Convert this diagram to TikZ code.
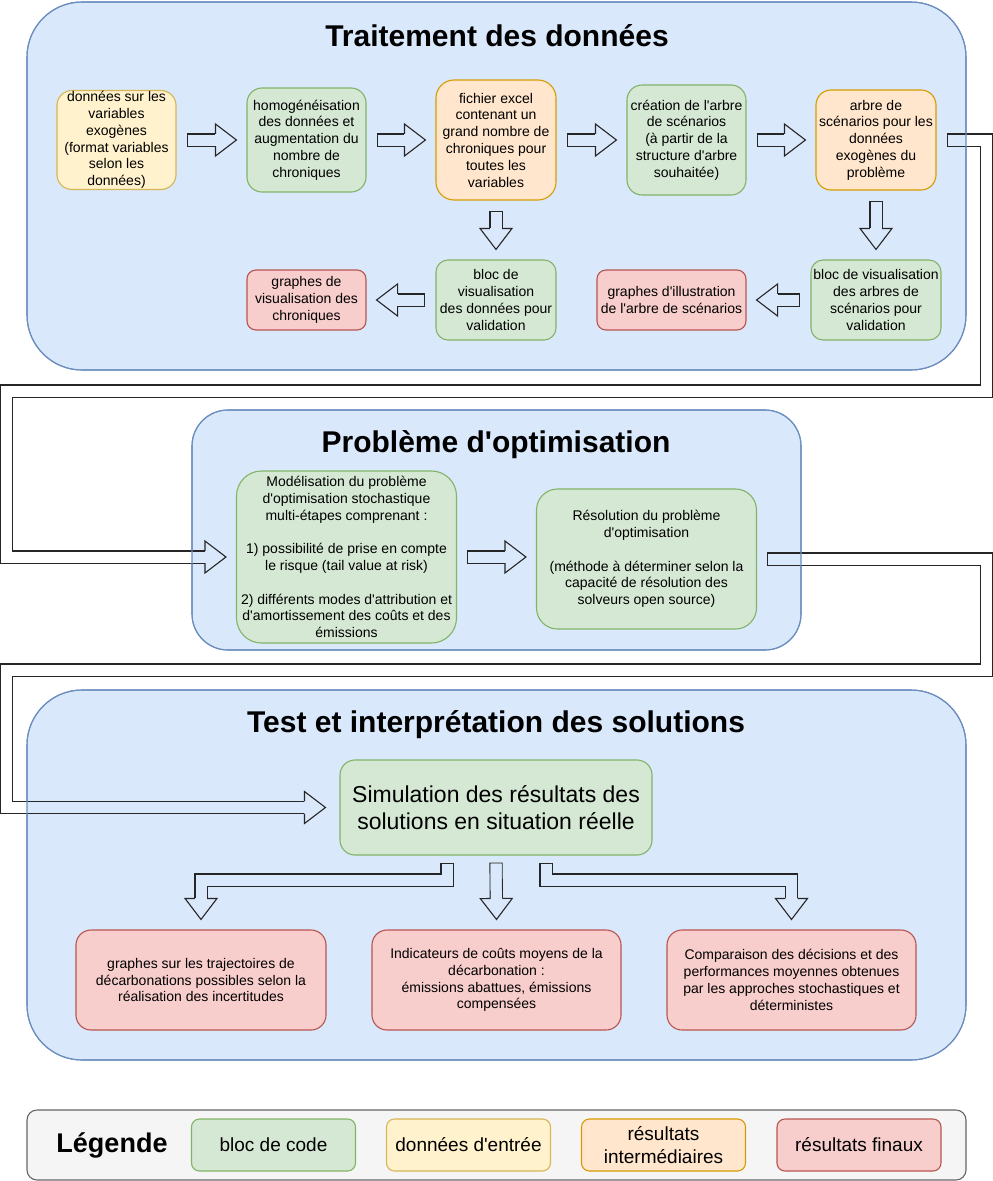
\documentclass[tikz,border=0pt]{standalone}
\usepackage{fontspec}
\setmainfont{Liberation Sans}[Ligatures=TeXOff]
\usetikzlibrary{calc}
\definecolor{groupfill}{HTML}{DAE8FC}\definecolor{groupline}{HTML}{6C8EBF}
\definecolor{codefill}{HTML}{D5E8D4}\definecolor{codeline}{HTML}{82B366}
\definecolor{inputfill}{HTML}{FFF2CC}\definecolor{inputline}{HTML}{D6B656}
\definecolor{interfill}{HTML}{FFE6CC}\definecolor{interline}{HTML}{D79B00}
\definecolor{finalfill}{HTML}{F8CECC}\definecolor{finalline}{HTML}{B85450}
\definecolor{legfill}{HTML}{F5F5F5}\definecolor{legline}{HTML}{666666}
\tikzset{
  box/.style={draw, rounded corners=15pt, align=center, inner sep=0pt, line width=1.1pt,
    font=\fontsize{14}{16.8}\selectfont},
  codebox/.style={box, fill=codefill, draw=codeline},
  inputbox/.style={box, fill=inputfill, draw=inputline},
  interbox/.style={box, fill=interfill, draw=interline},
  finalbox/.style={box, fill=finalfill, draw=finalline},
  legbox/.style={minimum width=164pt, minimum height=52pt, rounded corners=8pt,
    font=\fontsize{19}{22.8}\selectfont},
  group/.style={fill=groupfill, draw=groupline, line width=1.1pt},
  grouptitle/.style={font=\fontsize{30}{36}\selectfont\bfseries},
  arrowline/.style={draw=black!85, line width=1.1pt},
  shaft/.style={line width=11pt, shorten <=1.1pt, shorten >=-0.3pt},
}
\newcommand\grpone{[rounded corners=55pt] (27,2) rectangle (966,370)}
\newcommand\grptwo{[rounded corners=36pt] (192,410) rectangle (801,650)}
\newcommand\grpthree{[rounded corners=55pt] (27,690) rectangle (966,1060)}
% hollow arrow: #1 path up to the last corner, #2 last corner, #3 tip
\newcommand\fatarrow[3]{%
  \coordinate (fa) at ($(#3)!21pt!(#2)$);
  \draw[arrowline, line width=13.2pt] #1 -- (fa);
  \draw[shaft, white] #1 -- (fa);
  \begin{scope}\clip \grpone; \draw[shaft, groupfill] #1 -- (fa);\end{scope}
  \begin{scope}\clip \grptwo; \draw[shaft, groupfill] #1 -- (fa);\end{scope}
  \begin{scope}\clip \grpthree; \draw[shaft, groupfill] #1 -- (fa);\end{scope}
  \draw[arrowline] ($(fa)!6.05pt!90:(#3)$) -- ($(fa)!16pt!90:(#3)$) -- (#3)
    -- ($(fa)!16pt!-90:(#3)$) -- ($(fa)!6.05pt!-90:(#3)$);
}
\newcommand\fat[2]{\fatarrow{(#1)}{#1}{#2}}

\begin{document}
\begin{tikzpicture}[x=1pt, y=-1pt]
  \useasboundingbox (0,0) rectangle (993,1181);

  % groups
  \draw[group] \grpone;
  \node[grouptitle] (t1) at (497,36) {Traitement des données};
  \draw[group] \grptwo;
  \node[grouptitle] (t2) at (496,445) {Problème d'optimisation};
  \draw[group] \grpthree;
  \node[grouptitle] (t3) at (496,725) {Test et interprétation des solutions};

  % traitement des donnees
  \node[inputbox, minimum width=119pt, minimum height=99pt] (A) at (116.5,140)
    {données sur les\\variables\\exogènes\\(format variables\\selon les\\données)};
  \node[codebox, minimum width=119pt, minimum height=104pt] (B) at (306.5,140)
    {homogénéisation\\des données et\\augmentation du\\nombre de\\chroniques};
  \node[interbox, minimum width=120pt, minimum height=120pt, rounded corners=18pt] (C) at (496,140)
    {fichier excel\\contenant un\\grand nombre de\\chroniques pour\\toutes les\\variables};
  \node[codebox, minimum width=119pt, minimum height=110pt] (D) at (686.5,140)
    {création de l'arbre\\de scénarios\\(à partir de la\\structure d'arbre\\souhaitée)};
  \node[interbox, minimum width=120pt, minimum height=100pt] (E) at (876,140)
    {arbre de\\scénarios pour les\\données\\exogènes du\\problème};
  \node[finalbox, minimum width=119pt, minimum height=60pt, rounded corners=9pt] (F) at (306.5,300)
    {graphes de\\visualisation des\\chroniques};
  \node[codebox, minimum width=120pt, minimum height=80pt, rounded corners=12pt] (G) at (496,300)
    {bloc de\\visualisation\\des données pour\\validation};
  \node[finalbox, minimum width=149pt, minimum height=60pt, rounded corners=9pt] (H) at (671.5,300)
    {graphes d'illustration\\de l'arbre de scénarios};
  \node[codebox, minimum width=130pt, minimum height=80pt, rounded corners=12pt] (I) at (876,300)
    {bloc de visualisation\\des arbres de\\scénarios pour\\validation};

  % probleme d'optimisation
  \node[codebox, minimum width=220pt, minimum height=172pt, rounded corners=25pt] (M) at (346.5,557)
    {Modélisation du problème\\d'optimisation stochastique\\multi-étapes comprenant :\\[16.8pt]
     1) possibilité de prise en compte\\le risque (tail value at risk)\\[16.8pt]
     2) différents modes d'attribution et\\d'amortissement des coûts et des\\émissions};
  \node[codebox, minimum width=220pt, minimum height=140pt, rounded corners=21pt] (R) at (646.5,559)
    {Résolution du problème\\d'optimisation\\[16.8pt](méthode à déterminer selon la\\capacité de résolution des\\solveurs open source)};

  % test et interpretation
  \node[codebox, minimum width=312pt, minimum height=95pt, font=\fontsize{23}{27.6}\selectfont] (S) at (496,807.5)
    {Simulation des résultats des\\solutions en situation réelle};
  \node[finalbox, minimum width=250pt, minimum height=100pt] (K1) at (201,980)
    {graphes sur les trajectoires de\\décarbonations possibles selon la\\réalisation des incertitudes};
  \node[finalbox, minimum width=249pt, minimum height=100pt] (K2) at (496.5,980)
    {Indicateurs de coûts moyens de la\\décarbonation :\\émissions abattues, émissions\\compensées};
  \node[finalbox, minimum width=249pt, minimum height=100pt] (K3) at (791.5,980)
    {Comparaison des décisions et des\\performances moyennes obtenues\\par les approches stochastiques et\\déterministes};

  % arrows
  \coordinate (a1) at ([xshift=10pt]A.east);  \coordinate (b0) at ([xshift=-10pt]B.west);
  \coordinate (b1) at ([xshift=10pt]B.east);  \coordinate (c0) at ([xshift=-10pt]C.west);
  \coordinate (c1) at ([xshift=10pt]C.east);  \coordinate (d0) at ([xshift=-10pt]D.west);
  \coordinate (d1) at ([xshift=10pt]D.east);  \coordinate (e0) at ([xshift=-10pt]E.west);
  \coordinate (c2) at ([yshift=-10pt]C.south); \coordinate (g0) at ([yshift=10pt]G.north);
  \coordinate (e2) at ([yshift=-10pt]E.south); \coordinate (i0) at ([yshift=10pt]I.north);
  \coordinate (g1) at ([xshift=-10pt]G.west); \coordinate (f0) at ([xshift=10pt]F.east);
  \coordinate (i1) at ([xshift=-10pt]I.west); \coordinate (h0) at ([xshift=10pt]H.east);
  \fat{a1}{b0} \fat{b1}{c0} \fat{c1}{d0} \fat{d1}{e0}
  \fat{c2}{g0} \fat{e2}{i0} \fat{g1}{f0} \fat{i1}{h0}

  \coordinate (e1) at ([xshift=10pt]E.east);  \coordinate (m0) at ([xshift=-10pt]M.west);
  \coordinate (r1) at (986.5,391); \coordinate (l1) at (6.5,391); \coordinate (l1b) at (l1 |- m0);
  \fatarrow{(e1) -- (e1 -| r1) -- (r1) -- (l1) -- (l1b)}{l1b}{m0}

  \coordinate (m1) at ([xshift=10pt]M.east);  \coordinate (rw) at ([xshift=-10pt]R.west);
  \coordinate (r0) at (rw |- m1);
  \fat{m1}{r0}

  \coordinate (r2) at ([xshift=10pt]R.east);  \coordinate (s0) at ([xshift=-14pt]S.west);
  \coordinate (q1) at (986.5,670); \coordinate (q2) at (6.5,670); \coordinate (q2b) at (q2 |- s0);
  \fatarrow{(r2) -- (r2 -| q1) -- (q1) -- (q2) -- (q2b)}{q2b}{s0}

  \coordinate (jn) at (0,880);
  \coordinate (s1) at ([xshift=-49pt,yshift=-7pt]S.south); \coordinate (k1) at ([yshift=10pt]K1.north);
  \coordinate (s2) at ([yshift=-7pt]S.south);              \coordinate (k2) at ([yshift=10pt]K2.north);
  \coordinate (s3) at ([xshift=50pt,yshift=-7pt]S.south);  \coordinate (k3) at ([yshift=10pt]K3.north);
  \coordinate (j1) at (k1 |- jn); \coordinate (j3) at (k3 |- jn);
  \fatarrow{(s1) -- (s1 |- jn) -- (j1)}{j1}{k1}
  \fatarrow{(s2)}{s2}{k2}
  \fatarrow{(s3) -- (s3 |- jn) -- (j3)}{j3}{k3}

  % group borders over the arrows
  \draw[groupline, line width=1.1pt] \grpone;
  \draw[groupline, line width=1.1pt] \grptwo;
  \draw[groupline, line width=1.1pt] \grpthree;

  % legende
  \draw[fill=legfill, draw=legline, line width=1.1pt, rounded corners=10pt] (27,1110) rectangle (966,1180);
  \node[font=\fontsize{27}{32}\selectfont\bfseries] (leg) at (112,1145) {Légende};
  \node[codebox, legbox] (L1) at (273.5,1145) {bloc de code};
  \node[inputbox, legbox] (L2) at (468.5,1145) {données d'entrée};
  \node[interbox, legbox] (L3) at (663.5,1145) {résultats\\intermédiaires};
  \node[finalbox, legbox] (L4) at (859,1145) {résultats finaux};
\end{tikzpicture}
\end{document}
